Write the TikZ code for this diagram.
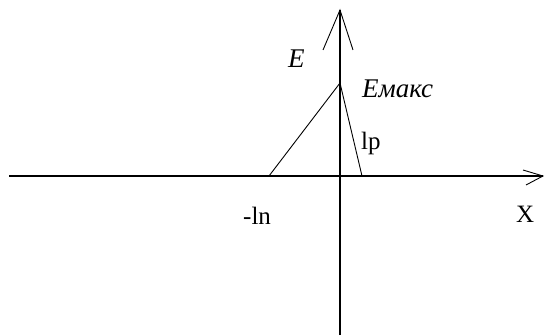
\documentclass[tikz,border=0pt]{standalone}
\usepackage{fontspec}
\setmainfont{Liberation Serif}
\begin{document}
\begin{tikzpicture}[x=1pt,y=-1pt,
  axis/.style={line width=1.6pt,black},
  thin line/.style={line width=0.9pt,black},
  lbl/.style={inner sep=0pt,font=\fontsize{25}{28}\selectfont},
  ilbl/.style={inner sep=0pt,font=\fontsize{27}{29}\selectfont\itshape}]
\useasboundingbox (0,0) rectangle (545,336);
% axes coordinates
\coordinate (ybot) at (340,335);
\coordinate (ytop) at (340,10);
\coordinate (yl) at (323,50);
\coordinate (yr) at (353,50);
\coordinate (xl) at (9,176);
\coordinate (xr) at (543,176);
\coordinate (xu) at (523,170);
\coordinate (xd) at (526,185);
% triangle
\coordinate (peak) at (340,83);
\coordinate (ln) at (269,176);
\coordinate (lp) at (362,176);
\draw[axis] (ybot) -- (ytop);
\draw[axis] (xl) -- (xr);
\draw[thin line] (yl) -- (ytop) -- (yr);
\draw[thin line] (xu) -- (xr) -- (xd);
\draw[thin line] (ln) -- (peak) -- (lp);
% labels
\node[ilbl,anchor=base west] (E) at (288,68) {E};
\node[ilbl,anchor=base west] (Emax) at (362,98) {Eмакс};
\node[lbl,anchor=base west] (lpl) at (361,150) {lp};
\node[lbl,anchor=base west] (lnl) at (243,225) {-ln};
\node[lbl,anchor=base west] (X) at (516,223) {X};
\end{tikzpicture}
\end{document}
